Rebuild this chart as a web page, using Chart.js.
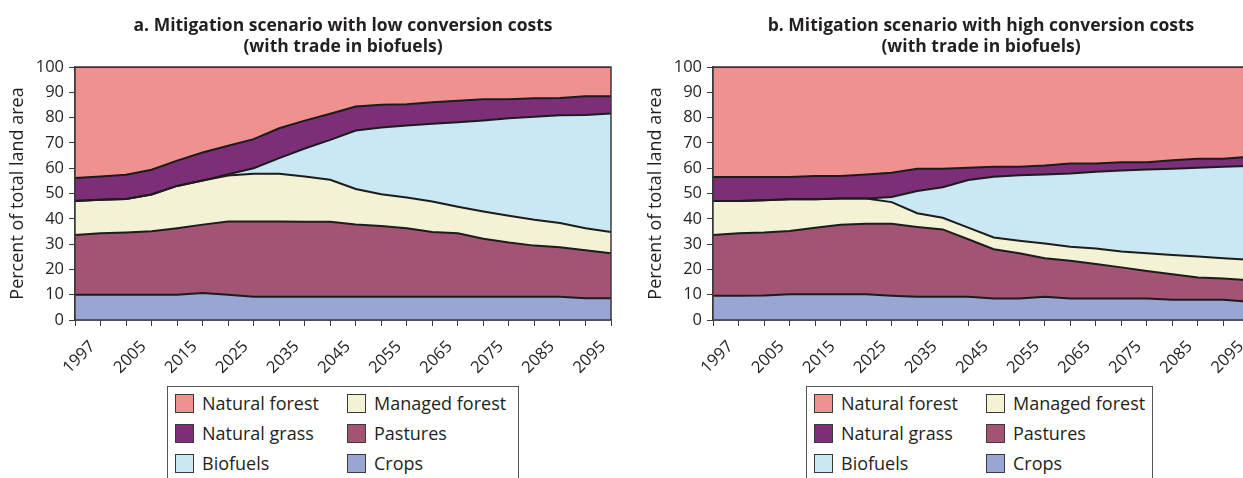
<!DOCTYPE html>
<html>
<head>
<meta charset="utf-8">
<title>Land use under mitigation scenarios</title>
<script src="https://cdn.jsdelivr.net/npm/chart.js@4.4.1/dist/chart.umd.min.js"></script>
<style>
  body { margin: 0; width: 1243px; height: 478px; overflow: hidden; background: #fff; position: relative;
         font-family: 'Open Sans', sans-serif; color: #231f20; }
  .panel { position: absolute; top: 0; }
  .legend { position: absolute; top: 386px; height: 100px; border: 1px solid #555; box-sizing: border-box;
            display: grid; grid-auto-flow: column; grid-template-rows: repeat(3, 30px);
            grid-template-columns: 172px 172px; padding: 1px 0 0 7px; }
  .item { display: flex; align-items: center; font-size: 18px; white-space: nowrap; }
  .swatch { width: 17px; height: 17px; border: 1px solid #3a3a3a; margin-right: 8px; }
</style>
</head>
<body>
<canvas id="chartLow" class="panel" width="625" height="380" style="left:0px"></canvas>
<canvas id="chartHigh" class="panel" width="625" height="380" style="left:638px"></canvas>
<div id="legendLow" class="legend" style="left:167px; width:352px"></div>
<div id="legendHigh" class="legend" style="left:806px; width:347px"></div>

<script>
'use strict';

// years on the category axis, only every other one gets a label
let years = ['1995', '1997', '2000', '2005', '2010', '2015', '2020', '2025', '2030', '2035', '2040',
  '2045', '2050', '2055', '2060', '2065', '2070', '2075', '2080', '2085', '2090', '2095'];
let yTicks = [0, 10, 20, 30, 40, 50, 60, 70, 80, 90, 100];

let seriesNames = ['Crops', 'Pastures', 'Managed forest', 'Biofuels', 'Natural grass', 'Natural forest'];
let seriesColors = ['#99a5d2', '#a35474', '#f3f2d5', '#c9e8f3', '#7c2f78', '#ef928f'];

// a. low conversion costs (percent of total land area)
let lowCrops = [10, 10, 10, 10, 10, 10.7, 10, 9.2, 9.2, 9.2, 9.2, 9.2, 9.2, 9.2, 9.2, 9.2, 9.2, 9.2, 9.2, 9.2, 8.6, 8.6];
let lowPastures = [23.6, 24.3, 24.6, 25.1, 26.3, 27.0, 28.9, 29.7, 29.7, 29.6, 29.6, 28.5, 28.0, 27.1, 25.6, 25.1, 22.9, 21.4, 20.2, 19.6, 19.0, 17.8];
let lowManaged = [13.4, 13.2, 13.2, 14.5, 16.7, 17.4, 18.2, 18.9, 18.9, 17.9, 16.6, 14.1, 12.5, 12.1, 12.0, 10.5, 10.8, 10.6, 10.2, 9.5, 8.7, 8.4];
let lowBiofuels = [0, 0, 0, 0, 0, 0, 0.5, 2.2, 6.2, 11.1, 15.8, 23.1, 26.4, 28.5, 30.8, 33.4, 36.0, 38.5, 40.7, 42.6, 44.7, 46.8];
let lowGrass = [9.1, 9.2, 9.6, 9.8, 10.0, 11.1, 11.3, 11.5, 11.8, 11.0, 10.3, 9.5, 9.0, 8.4, 8.5, 8.5, 8.4, 7.6, 7.3, 6.8, 7.4, 6.8];
let lowForest = [43.9, 43.3, 42.6, 40.6, 37.0, 33.8, 31.1, 28.5, 24.2, 21.2, 18.5, 15.6, 14.9, 14.7, 13.9, 13.3, 12.7, 12.7, 12.4, 12.3, 11.6, 11.6];

// b. high conversion costs
let highCrops = [9.6, 9.6, 9.7, 10.2, 10.2, 10.2, 10.2, 9.6, 9.2, 9.2, 9.2, 8.5, 8.5, 9.2, 8.5, 8.5, 8.5, 8.5, 8.0, 8.0, 8.0, 7.2];
let highPastures = [24.0, 24.7, 24.9, 25.0, 26.3, 27.4, 27.8, 28.4, 27.6, 26.6, 22.7, 19.5, 17.9, 15.2, 14.9, 13.6, 12.3, 10.9, 10.1, 8.8, 8.4, 8.5];
let highManaged = [13.4, 12.7, 12.7, 12.5, 11.2, 10.4, 10.0, 8.6, 5.4, 4.6, 4.6, 4.6, 4.9, 5.8, 5.6, 6.2, 6.3, 7.0, 7.6, 8.3, 8.0, 8.1];
let highBiofuels = [0, 0, 0, 0, 0, 0, 0, 2.0, 8.8, 12.1, 18.8, 24.0, 25.9, 27.3, 28.9, 30.3, 32.0, 33.1, 34.1, 35.1, 36.2, 37.1];
let highGrass = [9.5, 9.5, 9.2, 8.8, 9.2, 8.9, 9.5, 9.6, 8.8, 7.3, 4.9, 4.0, 3.4, 3.6, 4.0, 3.3, 3.3, 2.9, 3.3, 3.5, 3.1, 3.6];
let highForest = [43.5, 43.5, 43.5, 43.5, 43.1, 43.1, 42.5, 41.8, 40.2, 40.2, 39.8, 39.4, 39.4, 38.9, 38.1, 38.1, 37.6, 37.6, 36.9, 36.3, 36.3, 35.5];

let textColor = '#231f20';
let axisColor = '#3a3a3a';

// box round the plot area
let plotFrame = {
  id: 'plotFrame',
  afterDatasetsDraw(chart) {
    let ctx = chart.ctx;
    let a = chart.chartArea;
    ctx.save();
    ctx.strokeStyle = axisColor;
    ctx.lineWidth = 1.5;
    ctx.strokeRect(a.left, a.top, a.right - a.left, a.bottom - a.top);
    ctx.restore();
  }
};

function buildDatasets(values) {
  let datasets = [];
  for (let i = 0; i < values.length; i++) {
    datasets.push({
      label: seriesNames[i],
      data: values[i],
      backgroundColor: seriesColors[i],
      borderColor: '#1c1c1c',
      borderWidth: 2,
      fill: i === 0 ? 'origin' : '-1',
      pointRadius: 0,
      tension: 0
    });
  }
  return datasets;
}

function renderChart(canvasId, titleLines, values) {
  let ctx = document.getElementById(canvasId).getContext('2d');
  return new Chart(ctx, {
    type: 'line',
    data: { labels: years, datasets: buildDatasets(values) },
    plugins: [plotFrame],
    options: {
      responsive: false,
      animation: false,
      devicePixelRatio: 1,
      layout: { autoPadding: false, padding: { right: 14, left: 0, bottom: 0, top: 0 } },
      plugins: {
        legend: { display: false },
        tooltip: { enabled: false },
        filler: { drawTime: 'beforeDatasetsDraw' },
        title: {
          display: true,
          text: titleLines,
          fullSize: false,
          color: textColor,
          font: { family: 'Open Sans', size: 17.5, weight: 'bold', lineHeight: 1.2 },
          padding: { top: 16, bottom: 9 }
        }
      },
      scales: {
        x: {
          offset: false,
          border: { color: axisColor, width: 1.5 },
          grid: { drawOnChartArea: false, drawTicks: true, tickLength: 6, color: axisColor },
          ticks: {
            autoSkip: false,
            maxRotation: 45,
            minRotation: 45,
            padding: 11,
            labelOffset: -8,
            color: textColor,
            font: { family: 'Open Sans', size: 16.5 },
            callback: function (value, index) {
              return index % 2 === 1 ? years[index] : '';
            }
          },
          afterFit: function (scale) {
            scale.height = 60;
            scale.paddingLeft = 0;
            scale.paddingRight = 0;
          }
        },
        y: {
          stacked: true,
          min: yTicks[0],
          max: yTicks[yTicks.length - 1],
          border: { color: axisColor, width: 1.5 },
          grid: { drawOnChartArea: false, drawTicks: true, tickLength: 6, color: axisColor },
          afterBuildTicks: function (scale) {
            scale.ticks = yTicks.map(v => ({ value: v }));
          },
          ticks: {
            padding: 5,
            color: textColor,
            font: { family: 'Open Sans', size: 16.5 }
          },
          title: {
            display: true,
            text: 'Percent of total land area',
            color: textColor,
            font: { family: 'Open Sans', size: 18 },
            padding: { top: 7, bottom: 0 }
          },
          afterFit: function (scale) { scale.width = 75; }
        }
      }
    }
  });
}

// legend in two columns, top series first
function renderLegend(divId, chart) {
  let box = document.getElementById(divId);
  let sets = chart.data.datasets.slice().reverse();
  for (let i = 0; i < sets.length; i++) {
    let item = document.createElement('div');
    item.className = 'item';
    let swatch = document.createElement('span');
    swatch.className = 'swatch';
    swatch.style.background = sets[i].backgroundColor;
    item.appendChild(swatch);
    item.appendChild(document.createTextNode(sets[i].label));
    box.appendChild(item);
  }
}

let lowChart = renderChart('chartLow',
  ['a. Mitigation scenario with low conversion costs', '(with trade in biofuels)'],
  [lowCrops, lowPastures, lowManaged, lowBiofuels, lowGrass, lowForest]);
let highChart = renderChart('chartHigh',
  ['b. Mitigation scenario with high conversion costs', '(with trade in biofuels)'],
  [highCrops, highPastures, highManaged, highBiofuels, highGrass, highForest]);

renderLegend('legendLow', lowChart);
renderLegend('legendHigh', highChart);
</script>
</body>
</html>
